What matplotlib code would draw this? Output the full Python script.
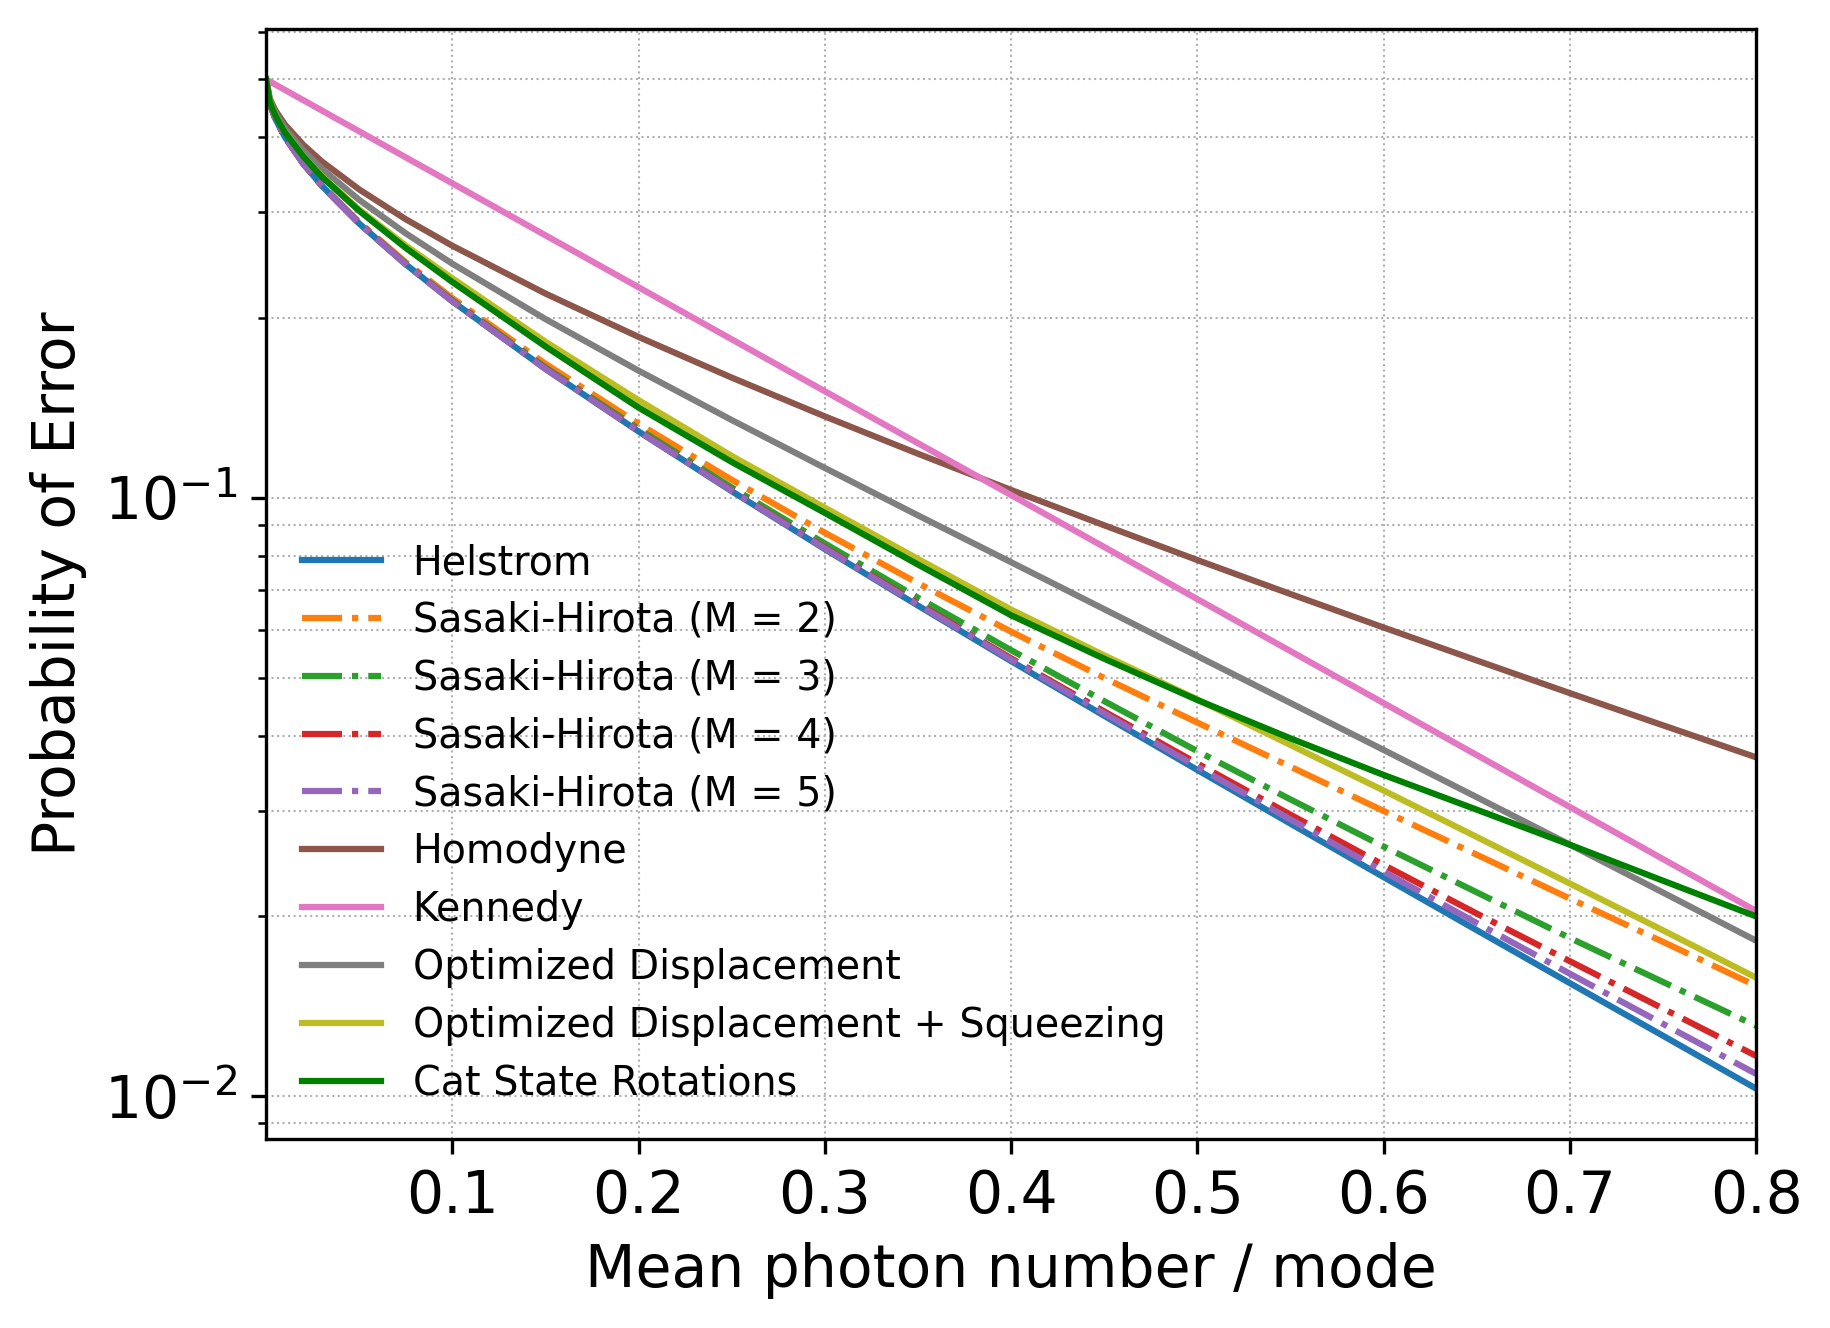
import numpy as np
import matplotlib
matplotlib.use("Agg")
import matplotlib.pyplot as plt

# mean photon number per mode
photons = [0.0, 0.002, 0.005, 0.01, 0.02, 0.03, 0.05, 0.075, 0.1, 0.15, 0.2, 0.25,
           0.3, 0.35, 0.4, 0.45, 0.5, 0.55, 0.6, 0.65, 0.7, 0.75, 0.8]

# error probabilities
helstrom = [0.5, 0.4554, 0.4296, 0.4010, 0.3614, 0.3319, 0.2871, 0.2454, 0.2129, 0.1641,
            0.1290, 0.1025, 0.08203, 0.06600, 0.05331, 0.04319, 0.03507, 0.02852,
            0.02322, 0.01893, 0.01544, 0.01261, 0.01029]
sh_m2 = [0.5, 0.4554, 0.4296, 0.4014, 0.3621, 0.3329, 0.2885, 0.2474, 0.2155, 0.1674,
         0.1329, 0.1071, 0.08736, 0.07194, 0.05971, 0.04997, 0.04208, 0.03551,
         0.02995, 0.02531, 0.02138, 0.01810, 0.01528]
sh_m3 = [0.5, 0.4554, 0.4296, 0.4010, 0.3618, 0.3322, 0.2877, 0.2461, 0.2138, 0.1651,
         0.1303, 0.1040, 0.08383, 0.06805, 0.05560, 0.04570, 0.03770, 0.03131,
         0.02612, 0.02190, 0.01837, 0.01551, 0.01310]
sh_m4 = [0.5, 0.4554, 0.4296, 0.4010, 0.3614, 0.3319, 0.2874, 0.2456, 0.2131, 0.1644,
         0.1293, 0.1029, 0.08252, 0.06653, 0.05390, 0.04392, 0.03595, 0.02952,
         0.02433, 0.02018, 0.01680, 0.01400, 0.01167]
sh_m5 = [0.5, 0.4554, 0.4296, 0.4010, 0.3614, 0.3319, 0.2871, 0.2454, 0.2129, 0.1641,
         0.1291, 0.1027, 0.08228, 0.06626, 0.05363, 0.04358, 0.03549, 0.02898,
         0.02371, 0.01946, 0.01601, 0.01320, 0.01089]
homodyne = [0.5, 0.4644, 0.4438, 0.4207, 0.3886, 0.3645, 0.3274, 0.2919, 0.2636, 0.2193,
            0.1856, 0.1587, 0.1367, 0.1184, 0.1030, 0.0899, 0.07865, 0.06901,
            0.06067, 0.05344, 0.04713, 0.04164, 0.03682]
kennedy = [0.5, 0.4960, 0.4901, 0.4804, 0.4616, 0.4435, 0.4094, 0.3704, 0.3352, 0.2744,
           0.2247, 0.1839, 0.1506, 0.1233, 0.1010, 0.0827, 0.06767, 0.05540,
           0.04536, 0.03714, 0.03041, 0.02489, 0.02038]
opt_disp = [0.5, 0.4617, 0.4395, 0.4148, 0.3803, 0.3544, 0.3145, 0.2765, 0.2460, 0.1988,
            0.1630, 0.1348, 0.1121, 0.0934, 0.0780, 0.0651, 0.05435, 0.04538,
            0.03788, 0.03158, 0.02631, 0.02188, 0.01818]
opt_disp_sq = [0.5, 0.459, 0.4352, 0.409, 0.3722, 0.3445, 0.3029, 0.2638, 0.2326, 0.1822,
               0.1455, 0.1174, 0.0962, 0.0790, 0.0650, 0.0545, 0.0460, 0.0386,
               0.0324, 0.0271, 0.02265, 0.01892, 0.01577]
cat_rot = [0.5, 0.4581, 0.4348, 0.4082, 0.3715, 0.3435, 0.3015, 0.2614, 0.2293, 0.1789,
           0.1414, 0.1147, 0.0943, 0.0773, 0.0636, 0.0538, 0.0459, 0.0396,
           0.0344, 0.0301, 0.0263, 0.0229, 0.01996]

x_ticks = [0.1, 0.2, 0.3, 0.4, 0.5, 0.6, 0.7, 0.8]

plt.rcParams['font.size'] = 14

fig = plt.figure(figsize=(6.1, 4.4267), dpi=300)
ax = fig.add_axes([0.1454, 0.1423, 0.8142, 0.8359])

ax.plot(photons, helstrom, label='Helstrom')
ax.plot(photons, sh_m2, '-.', label='Sasaki-Hirota (M = 2)')
ax.plot(photons, sh_m3, '-.', label='Sasaki-Hirota (M = 3)')
ax.plot(photons, sh_m4, '-.', label='Sasaki-Hirota (M = 4)')
ax.plot(photons, sh_m5, '-.', label='Sasaki-Hirota (M = 5)')
ax.plot(photons, homodyne, label='Homodyne')
ax.plot(photons, kennedy, label='Kennedy')
ax.plot(photons, opt_disp, label='Optimized Displacement')
ax.plot(photons, opt_disp_sq, label='Optimized Displacement + Squeezing')
ax.plot(photons, cat_rot, color='green', label='Cat State Rotations')

ax.set_yscale('log')
ax.set_xlim(0, 0.8)
ax.set_xticks(x_ticks)
ax.set_xlabel('Mean photon number / mode')
ax.set_ylabel('Probability of Error')
ax.grid(True, which='both', linestyle=':', linewidth=0.5)
ax.legend(loc='lower left', frameon=False, fontsize=9.5, labelspacing=0.45)

fig.savefig('out.png', dpi=300)
